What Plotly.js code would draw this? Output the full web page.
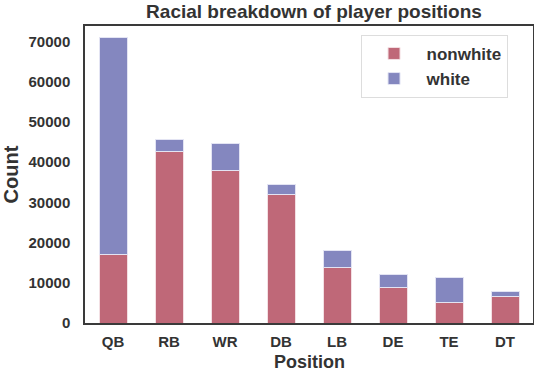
<!DOCTYPE html>
<html>
<head>
<meta charset="utf-8">
<script src="https://cdn.plot.ly/plotly-3.0.1.min.js"></script>
<style>
  body { margin: 0; background: #fff; }
  #chart { width: 534px; height: 372px; }
</style>
</head>
<body>
<div id="chart"></div>
<script>
// player counts by position
var positions = ['QB', 'RB', 'WR', 'DB', 'LB', 'DE', 'TE', 'DT'];
var totals = [71000, 45500, 44500, 34500, 18100, 12000, 11400, 7900];
var nonwhite = [17000, 42600, 37900, 31900, 13750, 8900, 5200, 6650];
var white = [];
for (var i = 0; i < totals.length; i++) {
  white.push(totals[i] - nonwhite[i]);
}
var yTicks = [0, 10000, 20000, 30000, 40000, 50000, 60000, 70000];

var font = 'Liberation Sans, Arial, sans-serif';

var nw = {
  x: positions,
  y: nonwhite,
  type: 'bar',
  name: 'nonwhite',
  marker: { color: '#bf6878', line: { color: '#f3dfe3', width: 1 } }
};

var wh = {
  x: positions,
  y: white,
  type: 'bar',
  name: 'white',
  marker: { color: '#8487bf', line: { color: '#e3e4f3', width: 1 } }
};

var layout = {
  width: 534,
  height: 372,
  barmode: 'stack',
  bargap: 0.5,
  margin: { l: 85, r: 1, t: 26, b: 49 },
  paper_bgcolor: '#fff',
  plot_bgcolor: '#fff',
  font: { family: font, color: '#333' },
  title: {
    text: 'Racial breakdown of player positions',
    font: { family: font, size: 19, weight: 'bold', color: '#333' },
    x: 0.588, xanchor: 'center',
    y: 0.97, yanchor: 'middle'
  },
  xaxis: {
    range: [-0.5, 7.5],
    showline: true, mirror: true, linecolor: '#3a3a3a', linewidth: 1.5,
    ticks: '',
    ticklabelstandoff: 4,
    tickfont: { family: font, size: 15, weight: 'bold', color: '#333' }
  },
  yaxis: {
    range: [0, 73800],
    tickvals: yTicks,
    ticktext: yTicks.map(String),
    showgrid: false, zeroline: false,
    showline: true, mirror: true, linecolor: '#3a3a3a', linewidth: 1.5,
    ticks: '',
    ticklabelstandoff: 10,
    tickfont: { family: font, size: 15, weight: 'bold', color: '#333' },
    title: { text: 'Count', font: { family: font, size: 20, weight: 'bold', color: '#333' }, standoff: 6 }
  },
  // x axis title sits low, close to the bottom edge like the original
  annotations: [{
    text: 'Position',
    xref: 'paper', yref: 'paper',
    x: 0.5, y: -0.13,
    xanchor: 'center', yanchor: 'middle',
    showarrow: false, borderpad: 0,
    font: { family: font, size: 18, weight: 'bold', color: '#333' }
  }],
  legend: {
    x: 0.615, y: 0.97, xanchor: 'left', yanchor: 'top',
    traceorder: 'normal',
    bgcolor: '#fff', bordercolor: '#ddd', borderwidth: 1,
    font: { family: font, size: 17, weight: 'bold', color: '#333' },
    itemwidth: 55
  },
  showlegend: true
};

Plotly.newPlot('chart', [nw, wh], layout, { displayModeBar: false });
</script>
</body>
</html>
